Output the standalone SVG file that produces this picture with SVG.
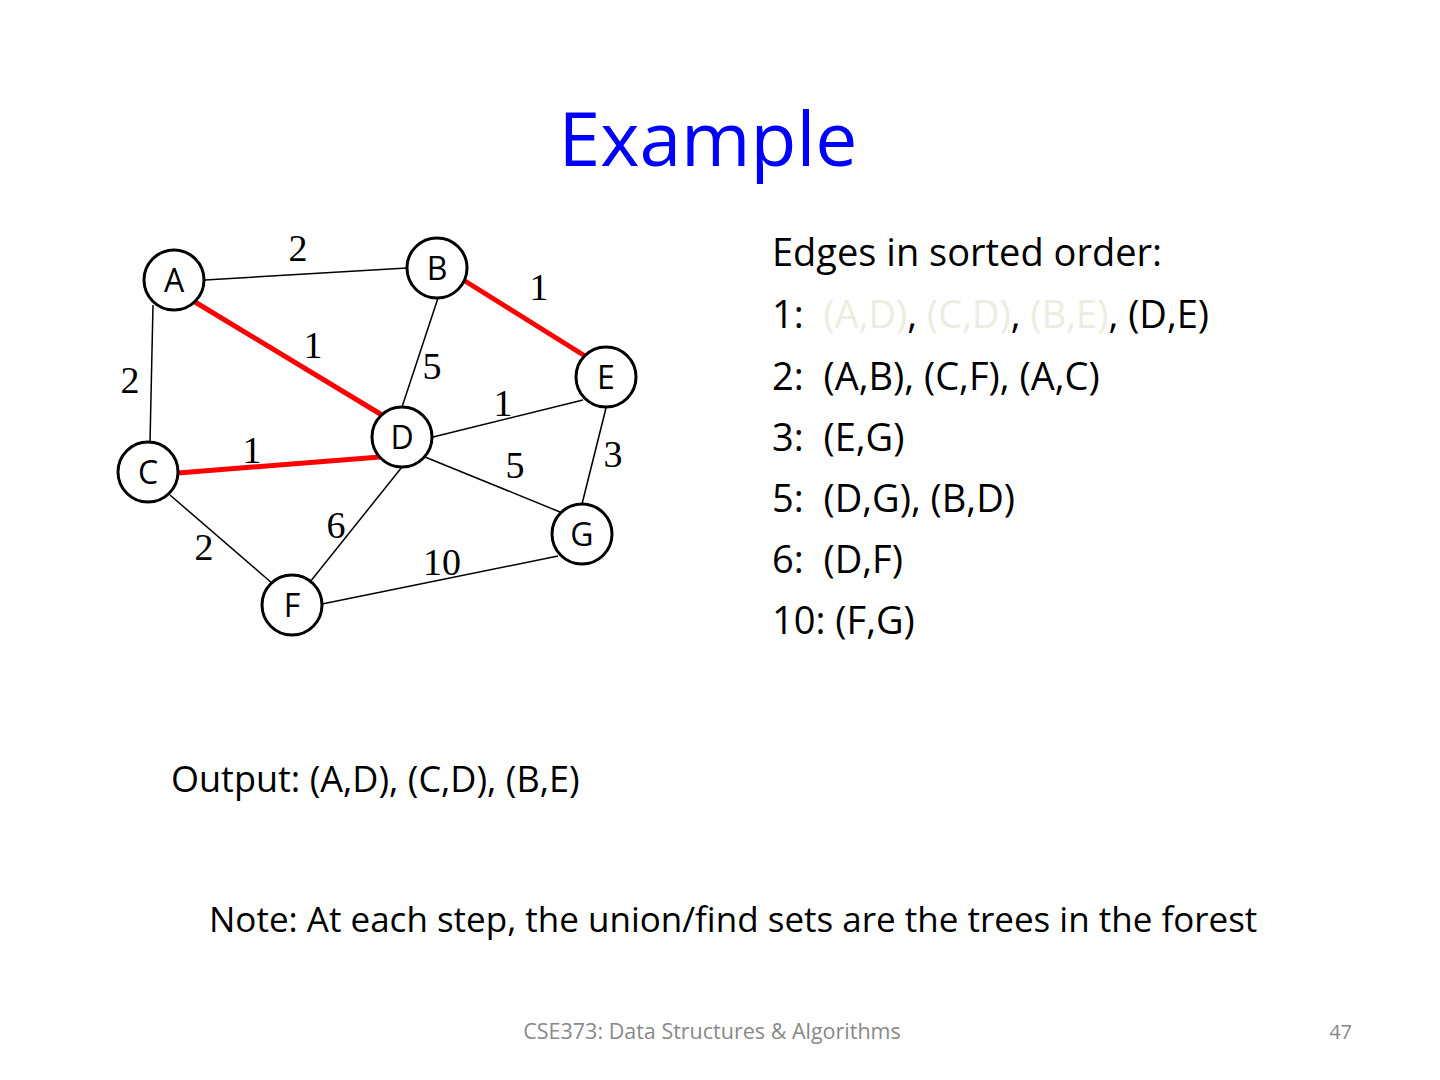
<svg xmlns="http://www.w3.org/2000/svg" width="1440" height="1080" viewBox="0 0 1440 1080">
<style>
.t{font-family:"Open Sans","Liberation Sans",sans-serif;fill:#000}
.lst{font-size:38px;white-space:pre}
.g{fill:#EEECE1}
.w{font-family:"Liberation Serif","Times New Roman",serif;font-size:38px;fill:#000;text-anchor:middle}
.e{stroke:#000;stroke-width:1.5;fill:none}
.r{stroke:#FF0000;stroke-width:5;fill:none}
.n circle{fill:#fff;stroke:#000;stroke-width:3}
.n text{font-family:"Open Sans","Liberation Sans",sans-serif;font-size:32px;text-anchor:middle;fill:#000}
</style>
<rect width="1440" height="1080" fill="#fff"/>
<text x="708" y="166" class="t" style="font-size:75px;fill:#0000FF" text-anchor="middle">Example</text>
<g id="connectors">
<line class="e" x1="205" y1="280" x2="407" y2="268"/>
<line class="e" x1="153" y1="305" x2="150" y2="442"/>
<line class="r" x1="195" y1="302" x2="382" y2="415"/>
<line class="e" x1="438" y1="298" x2="402" y2="407"/>
<line class="r" x1="465" y1="281" x2="585" y2="356"/>
<line class="r" x1="178" y1="473" x2="380" y2="457"/>
<line class="e" x1="433" y1="437" x2="583" y2="400"/>
<line class="e" x1="425" y1="457" x2="560" y2="512"/>
<line class="e" x1="606" y1="408" x2="582" y2="504"/>
<line class="e" x1="402" y1="467" x2="310" y2="582"/>
<line class="e" x1="170" y1="495" x2="273" y2="584"/>
<line class="e" x1="322" y1="604" x2="558" y2="556"/>
</g>
<g id="weights">
<text class="w" x="298" y="261">2</text>
<text class="w" x="539" y="300">1</text>
<text class="w" x="313" y="358">1</text>
<text class="w" x="432" y="379">5</text>
<text class="w" x="130" y="393">2</text>
<text class="w" x="503" y="416">1</text>
<text class="w" x="252" y="463">1</text>
<text class="w" x="613" y="467">3</text>
<text class="w" x="515" y="478">5</text>
<text class="w" x="336" y="538">6</text>
<text class="w" x="204" y="560">2</text>
<text class="w" x="442" y="575">10</text>
</g>
<g id="node-A" class="n"><circle cx="174" cy="280" r="30"/><text x="174" y="292">A</text></g>
<g id="node-B" class="n"><circle cx="437" cy="268" r="30"/><text x="437" y="280">B</text></g>
<g id="node-E" class="n"><circle cx="606" cy="377" r="30"/><text x="606" y="389">E</text></g>
<g id="node-D" class="n"><circle cx="402" cy="437" r="30"/><text x="402" y="449">D</text></g>
<g id="node-C" class="n"><circle cx="148" cy="472" r="30"/><text x="148" y="484">C</text></g>
<g id="node-G" class="n"><circle cx="582" cy="534" r="30"/><text x="582" y="546">G</text></g>
<g id="node-F" class="n"><circle cx="292" cy="605" r="30"/><text x="292" y="617">F</text></g>
<g id="list" class="t lst">
<text x="772" y="266" textLength="390">Edges in sorted order:</text>
<text x="772" y="328" xml:space="preserve">1:  <tspan class="g">(A,D)</tspan>, <tspan class="g">(C,D)</tspan>, <tspan class="g">(B,E)</tspan>, (D,E)</text>
<text x="772" y="390" xml:space="preserve">2:  (A,B), (C,F), (A,C)</text>
<text x="772" y="451" xml:space="preserve">3:  (E,G)</text>
<text x="772" y="512" xml:space="preserve">5:  (D,G), (B,D)</text>
<text x="772" y="573" xml:space="preserve">6:  (D,F)</text>
<text x="772" y="634" xml:space="preserve">10: (F,G)</text>
</g>
<text x="171" y="792" class="t" style="font-size:36px">Output: (A,D), (C,D), (B,E)</text>
<text x="209" y="932" class="t" style="font-size:35px">Note: At each step, the union/find sets are the trees in the forest</text>
<text x="712" y="1039" class="t" style="font-size:21.5px;fill:#898989" text-anchor="middle">CSE373: Data Structures &amp; Algorithms</text>
<text x="1352" y="1039" class="t" style="font-size:20px;fill:#898989" text-anchor="end">47</text>
</svg>
